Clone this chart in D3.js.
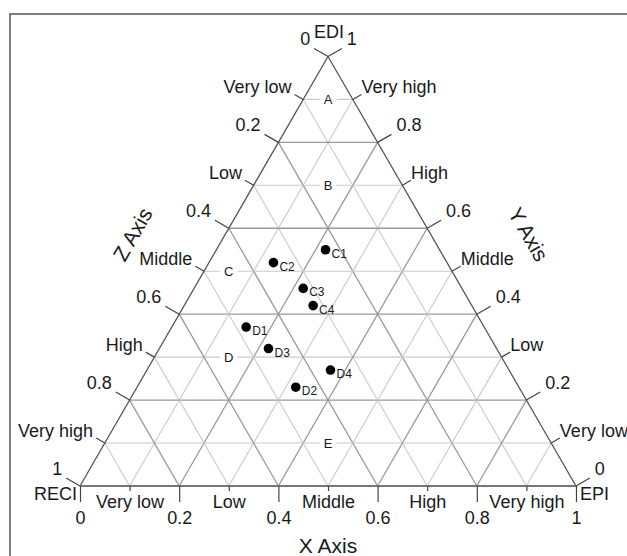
<!DOCTYPE html>
<html>
<head>
<meta charset="utf-8">
<script src="https://cdn.jsdelivr.net/npm/d3@7"></script>
<style>
  body { margin: 0; background: #fff; }
  text { font-family: "Liberation Sans", Arial, sans-serif; fill: #1a1a1a; }
</style>
</head>
<body>
<div id="chart"></div>
<script>
// ternary chart: X = EPI (bottom), Y = EDI (right side), Z = RECI (left side)
const majorTicks = [0, 0.2, 0.4, 0.6, 0.8, 1];
const majorLabels = ["0", "0.2", "0.4", "0.6", "0.8", "1"];
const classTicks = [0.1, 0.3, 0.5, 0.7, 0.9];
const classLabels = ["Very low", "Low", "Middle", "High", "Very high"];
const gridSteps = [0.1, 0.2, 0.3, 0.4, 0.5, 0.6, 0.7, 0.8, 0.9];

const pointNames = ["C1", "C2", "C3", "C4", "D1", "D2", "D3", "D4"];
const pointX = [0.22, 0.13, 0.22, 0.26, 0.15, 0.32, 0.22, 0.37];
const pointY = [0.55, 0.52, 0.46, 0.42, 0.37, 0.23, 0.32, 0.27];
const pointZ = [0.23, 0.35, 0.32, 0.32, 0.48, 0.45, 0.46, 0.36];

const regionNames = ["A", "B", "C", "D", "E"];
const regionX = [0.05, 0.15, 0.05, 0.15, 0.45];
const regionY = [0.9, 0.7, 0.5, 0.3, 0.1];

const width = 627, height = 556;
const left = 80, right = 576, base = 486;
const side = right - left;
const apex = base - side * Math.sqrt(3) / 2;

const xScale = d3.scaleLinear().domain([0, 1]).range([left, right]);
const hScale = d3.scaleLinear().domain([0, 1]).range([base, apex]);

// ternary (x,y) -> pixel
function pos(x, y) {
  return [xScale(x + y / 2), hScale(y)];
}

const svg = d3.select("#chart").append("svg")
  .attr("width", width).attr("height", height);

// frame
svg.append("rect")
  .attr("x", 10).attr("y", 14)
  .attr("width", 700).attr("height", 600)
  .attr("fill", "none").attr("stroke", "#555").attr("stroke-width", 1.5);

const grid = svg.append("g");
gridSteps.forEach(v => {
  const major = Math.round(v * 10) % 2 === 0;
  const col = major ? "#999" : "#cacaca";
  const segs = [
    [pos(0, v), pos(1 - v, v)],       // constant Y (horizontal)
    [pos(v, 0), pos(v, 1 - v)],       // constant X
    [pos(0, 1 - v), pos(1 - v, 0)]    // constant Z
  ];
  segs.forEach(s => {
    grid.append("line")
      .attr("x1", s[0][0]).attr("y1", s[0][1])
      .attr("x2", s[1][0]).attr("y2", s[1][1])
      .attr("stroke", col).attr("stroke-width", major ? 1.3 : 1.1);
  });
});

// triangle edges
const A = pos(0, 0), B = pos(1, 0), C = pos(0, 1);
svg.append("path")
  .attr("d", `M${C[0]},${C[1]}L${A[0]},${A[1]}M${C[0]},${C[1]}L${B[0]},${B[1]}`)
  .attr("fill", "none").attr("stroke", "#555").attr("stroke-width", 1.3);
svg.append("line")
  .attr("x1", A[0]).attr("y1", A[1]).attr("x2", B[0]).attr("y2", B[1])
  .attr("stroke", "#777").attr("stroke-width", 2);

// bottom axis (X)
const xAxisMajor = d3.axisBottom(xScale)
  .tickValues(majorTicks).tickSize(16).tickPadding(9)
  .tickFormat((d, i) => majorLabels[i]);
const xAxisMinor = d3.axisBottom(xScale)
  .tickValues(classTicks).tickSize(5).tickPadding(4)
  .tickFormat((d, i) => classLabels[i]);
[xAxisMajor, xAxisMinor].forEach(ax => {
  const g = svg.append("g").attr("transform", `translate(0,${base})`).call(ax);
  g.select(".domain").remove();
  g.selectAll("line").attr("stroke", "#444").attr("stroke-width", 1.2);
  g.selectAll("text").attr("font-size", 18).attr("fill", "#1a1a1a")
    .style("font-family", "'Liberation Sans', Arial, sans-serif");
});

// side axes
const cos30 = Math.cos(Math.PI / 6), sin30 = 0.5;
function sideTick(p, dir, len, label, anchor, dx, dy) {
  const e = [p[0] + dir[0] * len, p[1] + dir[1] * len];
  svg.append("line")
    .attr("x1", p[0]).attr("y1", p[1]).attr("x2", e[0]).attr("y2", e[1])
    .attr("stroke", "#444").attr("stroke-width", 1.2);
  svg.append("text")
    .attr("x", e[0] + dx).attr("y", e[1] + dy)
    .attr("text-anchor", anchor).attr("font-size", 18)
    .text(label);
}
// Z axis, left edge: z=0 at apex, z=1 at RECI
majorTicks.forEach((z, i) => sideTick(pos(0, 1 - z), [-cos30, -sin30], 16, majorLabels[i], "end", -4, -3));
classTicks.forEach((z, i) => sideTick(pos(0, 1 - z), [-cos30, -sin30], 10, classLabels[i], "end", -3, -1));
// Y axis, right edge: y=0 at EPI, y=1 at apex
majorTicks.forEach((y, i) => sideTick(pos(1 - y, y), [cos30, -sin30], 16, majorLabels[i], "start", 5, -3));
classTicks.forEach((y, i) => sideTick(pos(1 - y, y), [cos30, -sin30], 10, classLabels[i], "start", 0, -1));

// vertex names
svg.append("text").attr("x", C[0] + 1).attr("y", 38).attr("text-anchor", "middle").attr("font-size", 18).text("EDI");
svg.append("text").attr("x", A[0] - 3).attr("y", 500).attr("text-anchor", "end").attr("font-size", 18).text("RECI");
svg.append("text").attr("x", B[0] + 4).attr("y", 500).attr("text-anchor", "start").attr("font-size", 18).text("EPI");

// axis titles
svg.append("text").attr("text-anchor", "middle").attr("font-size", 21)
  .attr("transform", "translate(328,553)").text("X Axis");
svg.append("text").attr("text-anchor", "middle").attr("font-size", 21)
  .attr("transform", "translate(139,238) rotate(-60)").text("Z Axis");
svg.append("text").attr("text-anchor", "middle").attr("font-size", 21)
  .attr("transform", "translate(522,238) rotate(60)").text("Y Axis");

// region labels with white backing
regionNames.forEach((n, i) => {
  const p = pos(regionX[i], regionY[i]);
  const g = svg.append("g");
  const t = g.append("text")
    .attr("x", p[0]).attr("y", p[1] + 5)
    .attr("text-anchor", "middle").attr("font-size", 13).text(n);
  const bb = t.node().getBBox();
  g.insert("rect", "text")
    .attr("x", bb.x - 4).attr("y", p[1] - 2).attr("width", bb.width + 8).attr("height", 4)
    .attr("fill", "#fff");
});

// data points
const pts = svg.append("g");
pointNames.forEach((n, i) => {
  const p = pos(pointX[i], pointY[i]);
  pts.append("circle").attr("cx", p[0]).attr("cy", p[1]).attr("r", 4.8).attr("fill", "#000");
  pts.append("text").attr("x", p[0] + 6).attr("y", p[1] + 8).attr("font-size", 12).text(n);
});
</script>
</body>
</html>
